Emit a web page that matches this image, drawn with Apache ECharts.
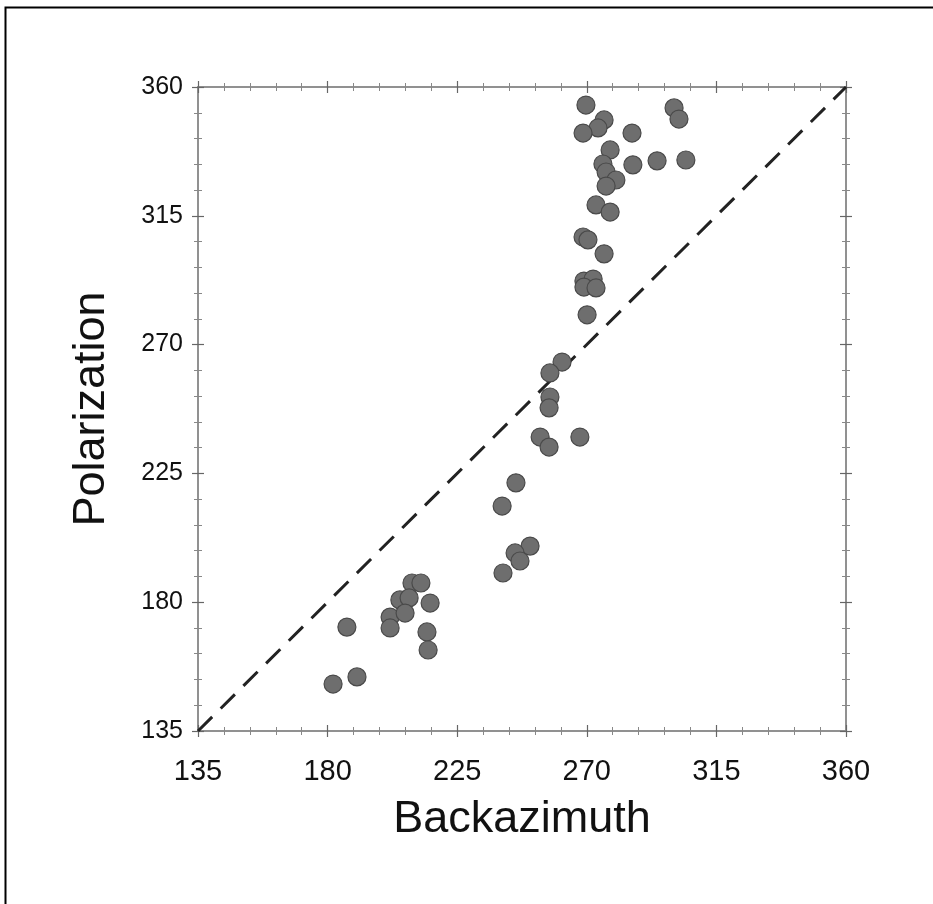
<!DOCTYPE html>
<html>
<head>
<meta charset="utf-8">
<script src="https://cdn.jsdelivr.net/npm/echarts@6/dist/echarts.min.js"></script>
<style>
html,body{margin:0;padding:0;background:#fff;}
#chart{width:933px;height:904px;}
</style>
</head>
<body>
<div id="chart"></div>
<script>
// Data
const backazimuth = [269.7,276.0,273.9,268.7,285.7,300.3,302.0,278.1,275.6,286.0,294.4,304.4,276.7,280.1,276.7,273.2,278.1,268.7,270.4,276.0,269.0,272.2,269.0,273.2,270.1,261.4,257.2,257.2,256.9,253.8,256.9,267.6,245.4,240.6,250.3,245.1,246.8,240.9,209.3,212.4,205.1,208.3,215.6,201.7,206.9,201.7,214.5,214.9,186.7,190.2,181.9];
const polarization = [353.7,348.5,345.7,343.9,343.9,352.7,348.8,338.0,333.1,332.8,334.2,334.5,330.3,327.5,325.4,318.8,316.3,307.6,306.6,301.7,292.2,292.9,290.1,289.8,280.4,263.9,260.1,251.7,247.9,237.7,234.2,237.7,221.7,213.6,199.6,197.2,194.4,190.2,186.7,186.7,180.8,181.5,179.7,174.8,176.2,171.0,169.6,163.3,171.3,153.9,151.4];
const diagonal = [135, 360];
const axisMin = 135, axisMax = 360, majorStep = 45;
const xName = 'Backazimuth', yName = 'Polarization';

const points = backazimuth.map((b, i) => [b, polarization[i]]);
const lineData = diagonal.map(v => [v, v]);

const chart = echarts.init(document.getElementById('chart'), null, {renderer: 'canvas'});
const font = 'Liberation Sans, Arial, Helvetica, sans-serif';
const lineCol = '#8a8a8a';

function mkAxis(pos, inside, labels, extra) {
  return Object.assign({
    type: 'value', position: pos, min: axisMin, max: axisMax, interval: majorStep,
    splitLine: {show: false},
    axisLine: {show: true, onZero: false, lineStyle: {color: lineCol, width: 1.5}},
    axisTick: {show: true, inside: inside, length: 6, lineStyle: {color: '#666', width: 1.2}},
    minorTick: {show: true, splitNumber: 5, length: 4, lineStyle: {color: '#888', width: 1}},
    axisLabel: {show: labels, color: '#111', fontFamily: font, fontSize: 25, margin: 16}
  }, extra || {});
}

const option = {
  animation: false,
  backgroundColor: '#fff',
  grid: {left: 198, right: 87, top: 87, bottom: 173, containLabel: false},
  xAxis: [
    mkAxis('bottom', false, true, {name: xName, nameLocation: 'middle', nameGap: 66,
      nameTextStyle: {fontFamily: font, fontSize: 45, color: '#111'},
      axisLabel: {show: true, color: '#111', fontFamily: font, fontSize: 29, margin: 26}}),
    mkAxis('bottom', true, false),
    mkAxis('top', false, false),
    mkAxis('top', true, false)
  ],
  yAxis: [
    mkAxis('left', false, true, {name: yName, nameLocation: 'middle', nameGap: 84,
      nameTextStyle: {fontFamily: font, fontSize: 45, color: '#111'},
      axisLabel: {show: true, color: '#111', fontFamily: font, fontSize: 25, margin: 15}}),
    mkAxis('left', true, false),
    mkAxis('right', false, false),
    mkAxis('right', true, false)
  ],
  graphic: [{
    type: 'rect', shape: {x: 5.5, y: 7.5, width: 1000, height: 1000},
    style: {fill: 'none', stroke: '#000', lineWidth: 2}, silent: true, z: -10
  }],
  series: [
    {
      type: 'line', data: lineData, xAxisIndex: 0, yAxisIndex: 0,
      showSymbol: false, symbol: 'none',
      lineStyle: {color: '#222', width: 3, type: [20, 12]}, z: 2
    },
    {
      type: 'scatter', data: points, xAxisIndex: 0, yAxisIndex: 0,
      symbol: 'circle', symbolSize: 18,
      itemStyle: {color: '#6e6e6e', borderColor: '#4a4a4a', borderWidth: 1.2, opacity: 1},
      z: 3
    }
  ]
};
chart.setOption(option);
</script>
</body>
</html>
